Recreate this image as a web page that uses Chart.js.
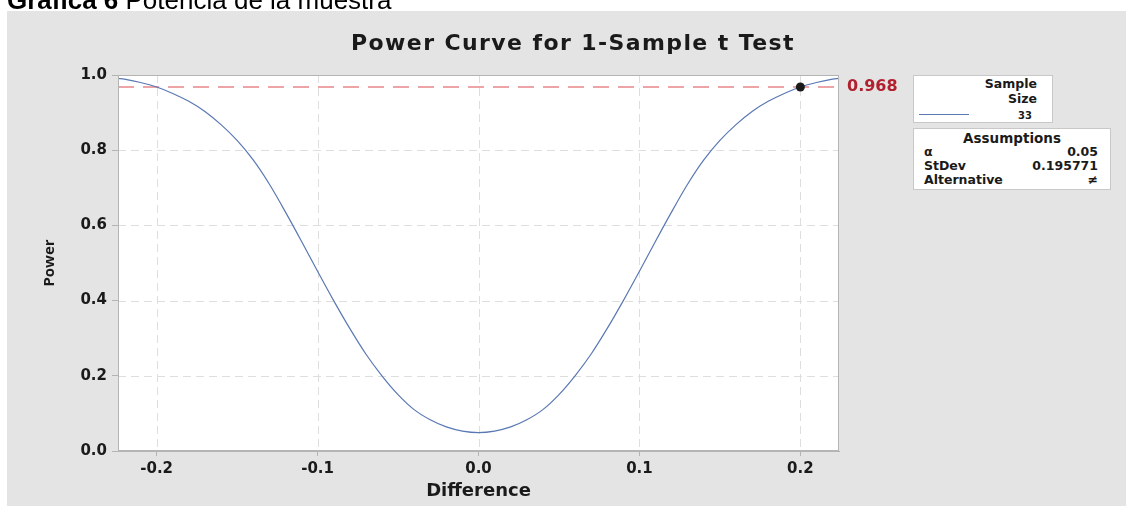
<!DOCTYPE html>
<html>
<head>
<meta charset="utf-8">
<script src="https://cdn.jsdelivr.net/npm/chart.js@4.4.1/dist/chart.umd.min.js"></script>
<style>
  html, body { margin: 0; padding: 0; background: #fff; }
  body { position: relative; width: 1126px; height: 506px; overflow: hidden; font-family: "DejaVu Sans", sans-serif; }
  #caption { position: absolute; left: 7px; top: -13px; font: 26px/26px "Liberation Sans", Arial, sans-serif; color: #000; white-space: nowrap; z-index: 3; }
  #caption b { font-weight: bold; }
  #panel { position: absolute; left: 7px; top: 11px; width: 1119px; height: 495px; background: #e4e4e4; }
  #chart { position: absolute; left: 0; top: 0; }
  #title { position: absolute; left: 273px; width: 600px; top: 30px; text-align: center; font: bold 22px/26px "DejaVu Sans", sans-serif; letter-spacing: 1.4px; color: #1a1a1a; z-index: 2; }
  .box { position: absolute; background: #fff; border: 1px solid #c8c8c8; box-sizing: border-box; color: #1a1a1a; z-index: 2; }
  #sizeBox { left: 913px; top: 75px; width: 140px; height: 48px; }
  #assumpBox { left: 913px; top: 128px; width: 198px; height: 62px; }
  .hdr { position: absolute; font: bold 12.5px/14px "DejaVu Sans", sans-serif; right: 15px; }
  .swatch { position: absolute; left: 5px; top: 38px; width: 50px; height: 0; border-top: 1px solid #5a78b4; }
  .n { position: absolute; right: 20px; top: 34px; font: bold 10px/12px "DejaVu Sans", sans-serif; }
  #assumpBox .head { position: absolute; left: 0; right: 0; top: 1px; text-align: center; font: bold 13.5px/16px "DejaVu Sans", sans-serif; }
  .row { position: absolute; left: 10px; right: 12px; height: 14px; font: bold 12.5px/14px "DejaVu Sans", sans-serif; }
  .row span:last-child { position: absolute; right: 0; }
</style>
</head>
<body>
<div id="caption"><b>Gráfica 6</b> Potencia de la muestra</div>
<div id="panel"><canvas id="chart" width="1119" height="495"></canvas></div>
<div id="title">Power Curve for 1-Sample t Test</div>
<div class="box" id="sizeBox">
  <div class="hdr" style="top:1px">Sample</div>
  <div class="hdr" style="top:16px">Size</div>
  <div class="swatch"></div>
  <div class="n" id="sizeLabel"></div>
</div>
<div class="box" id="assumpBox">
  <div class="head">Assumptions</div>
  <div class="row" style="top:16px"><span>α</span><span id="alphaVal"></span></div>
  <div class="row" style="top:30px"><span>StDev</span><span id="sdVal"></span></div>
  <div class="row" style="top:44px"><span>Alternative</span><span>≠</span></div>
</div>
<script>
// values
const differences = [
  -0.224, -0.22, -0.21, -0.20, -0.19, -0.18, -0.17, -0.16, -0.15, -0.14, -0.13, -0.12,
  -0.11, -0.10, -0.09, -0.08, -0.07, -0.06, -0.05, -0.04, -0.03, -0.02, -0.01, 0,
  0.01, 0.02, 0.03, 0.04, 0.05, 0.06, 0.07, 0.08, 0.09, 0.10, 0.11, 0.12,
  0.13, 0.14, 0.15, 0.16, 0.17, 0.18, 0.19, 0.20, 0.21, 0.22, 0.224,
];
const powers = [
  0.991, 0.989, 0.980, 0.968, 0.951, 0.930, 0.903, 0.868, 0.826, 0.774, 0.710, 0.636,
  0.558, 0.478, 0.400, 0.326, 0.258, 0.200, 0.150, 0.110, 0.083, 0.064, 0.053, 0.049,
  0.053, 0.064, 0.083, 0.110, 0.150, 0.200, 0.258, 0.326, 0.400, 0.478, 0.558, 0.636,
  0.710, 0.774, 0.826, 0.868, 0.903, 0.930, 0.951, 0.968, 0.980, 0.989, 0.991,
];
const targetDifference = 0.2;
const targetPower = 0.968;
const xTicks = [-0.2, -0.1, 0, 0.1, 0.2];
const yTicks = [0, 0.2, 0.4, 0.6, 0.8, 1.0];
const xRange = [-0.224, 0.224];
const sampleSize = 33;
const alpha = 0.05;
const stDev = 0.195771;

document.getElementById('sizeLabel').textContent = sampleSize;
document.getElementById('alphaVal').textContent = alpha;
document.getElementById('sdVal').textContent = stDev;

const GRID = '#dedede';
const FRAME = '#b4b4b4';

// white plot area, dashed grid, frame and the power label
const plotFrame = {
  id: 'plotFrame',
  beforeDraw(chart) {
    const { ctx, chartArea: a } = chart;
    ctx.save();
    ctx.fillStyle = '#ffffff';
    ctx.fillRect(a.left, a.top, a.right - a.left, a.bottom - a.top);
    ctx.restore();
  },
  beforeDatasetsDraw(chart) {
    const { ctx, chartArea: a, scales } = chart;
    ctx.save();
    ctx.strokeStyle = GRID;
    ctx.lineWidth = 1;
    ctx.setLineDash([8, 5]);
    xTicks.forEach((v) => {
      const px = Math.round(scales.x.getPixelForValue(v)) + 0.5;
      ctx.beginPath();
      ctx.moveTo(px, a.top);
      ctx.lineTo(px, a.bottom);
      ctx.stroke();
    });
    yTicks.slice(1, -1).forEach((v) => {
      const py = Math.round(scales.y.getPixelForValue(v)) + 0.5;
      ctx.beginPath();
      ctx.moveTo(a.left, py);
      ctx.lineTo(a.right, py);
      ctx.stroke();
    });
    ctx.restore();
  },
  afterDraw(chart) {
    const { ctx, chartArea: a, scales } = chart;
    ctx.save();
    ctx.strokeStyle = FRAME;
    ctx.lineWidth = 1;
    ctx.strokeRect(a.left + 0.5, a.top + 0.5, a.right - a.left - 1, a.bottom - a.top - 1);
    ctx.fillStyle = '#b0202e';
    ctx.font = 'bold 16px "DejaVu Sans", sans-serif';
    ctx.textAlign = 'left';
    ctx.textBaseline = 'middle';
    ctx.fillText(targetPower.toFixed(3), a.right + 8, scales.y.getPixelForValue(targetPower));
    ctx.restore();
  },
};

new Chart(document.getElementById('chart').getContext('2d'), {
  type: 'line',
  data: {
    datasets: [
      {
        label: 'Power point',
        type: 'scatter',
        data: [{ x: targetDifference, y: targetPower }],
        pointRadius: 4.5,
        pointBackgroundColor: '#1a1a1a',
        pointBorderWidth: 0,
        order: 0,
      },
      {
        label: String(sampleSize),
        data: differences.map((x, i) => ({ x, y: powers[i] })),
        borderColor: '#5a78b4',
        borderWidth: 1.2,
        pointRadius: 0,
        tension: 0.3,
        order: 1,
      },
      {
        label: 'Target',
        data: xRange.map((x) => ({ x, y: targetPower })),
        borderColor: '#e8868a',
        borderWidth: 1.4,
        borderDash: [16, 9],
        pointRadius: 0,
        order: 2,
      },
    ],
  },
  options: {
    responsive: false,
    animation: false,
    events: [],
    layout: { padding: { left: 0, right: 287, top: 64, bottom: 0 } },
    plugins: { legend: { display: false }, tooltip: { enabled: false } },
    scales: {
      x: {
        type: 'linear',
        min: xRange[0],
        max: xRange[1],
        afterBuildTicks: (scale) => { scale.ticks = xTicks.map((value) => ({ value })); },
        afterFit: (scale) => { scale.height = 55; },
        ticks: {
          color: '#1a1a1a',
          font: { family: 'DejaVu Sans', size: 15, weight: 'bold' },
          padding: 4,
          maxRotation: 0,
          callback: (v) => Number(v).toFixed(1),
        },
        grid: { drawOnChartArea: false, tickColor: FRAME, tickLength: 5 },
        border: { color: FRAME },
        title: {
          display: true,
          text: 'Difference',
          color: '#1a1a1a',
          font: { family: 'DejaVu Sans', size: 18, weight: 'bold' },
          padding: { top: 0, bottom: 4 },
        },
      },
      y: {
        min: 0,
        max: 1,
        afterBuildTicks: (scale) => { scale.ticks = yTicks.map((value) => ({ value })); },
        afterFit: (scale) => { scale.width = 111; },
        ticks: {
          color: '#1a1a1a',
          font: { family: 'DejaVu Sans', size: 15, weight: 'bold' },
          padding: 5,
          callback: (v) => Number(v).toFixed(1),
        },
        grid: { drawOnChartArea: false, tickColor: FRAME, tickLength: 6 },
        border: { color: FRAME },
        title: {
          display: true,
          text: 'Power',
          color: '#1a1a1a',
          font: { family: 'Open Sans', size: 15, weight: 'bold' },
          padding: { top: 34, bottom: 0 },
        },
      },
    },
  },
  plugins: [plotFrame],
});
</script>
</body>
</html>
